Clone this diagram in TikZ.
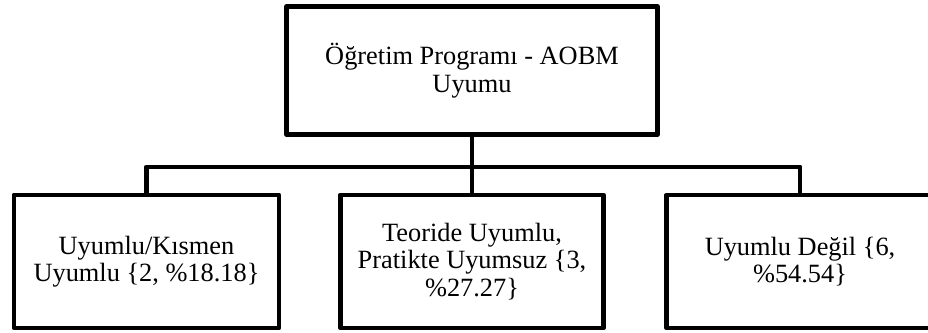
\documentclass[tikz,border=0pt]{standalone}
\usepackage{fontspec}
\setmainfont{Liberation Serif}
\usepackage{tikz}
\usetikzlibrary{positioning,calc}
\tikzset{
    obox/.style={draw, line width=2.8pt, line join=round, rectangle,
                 fill=white, minimum width=#1, minimum height=2.66cm,
                 inner sep=2pt, align=center,
                 font=\rmfamily\fontsize{15}{15.6}\selectfont},
    link/.style={draw, line width=2.8pt, line join=round},
}

\begin{document}
\begin{tikzpicture}[x=0.02cm, y=-0.02cm]
    \clip (0,0) rectangle (928,333);
    \fill[white] (0,0) rectangle (928,333);
    % root of the tree
    \node[obox=7.42cm, minimum height=2.56cm] (root) at (472,70.5)
        {Öğretim Programı - AOBM\\Uyumu};
    % the three outcome boxes
    \node[obox=5.3cm] (uyumlu) at (146.5,261.5)
        {Uyumlu/Kısmen\\Uyumlu \{2, \%18.18\}};
    \node[obox=5.26cm] (teori) at (472,261.5)
        {Teoride Uyumlu,\\Pratikte Uyumsuz \{3,\\\%27.27\}};
    \node[obox=5.34cm] (degil) at (800,261.5)
        {Uyumlu Değil \{6,\\\%54.54\}};
    % connectors
    \coordinate (hub) at (472,167);
    \draw[link] (root.south) -- (hub);
    \draw[link] (uyumlu.north) |- (hub) -| (degil.north);
    \draw[link] (hub) -- (teori.north);
\end{tikzpicture}
\end{document}
